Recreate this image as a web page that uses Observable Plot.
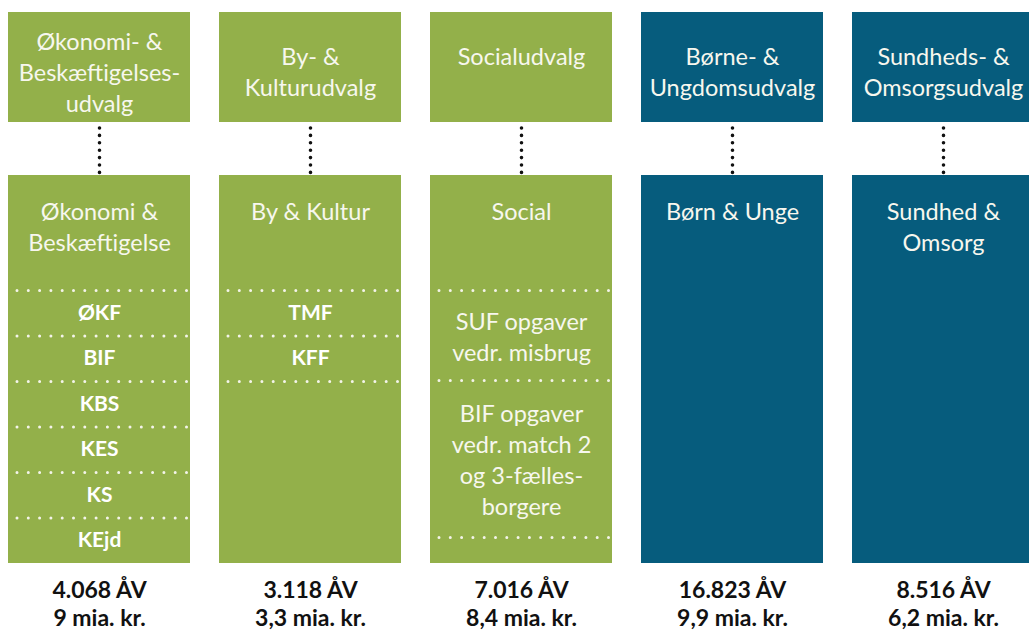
<!DOCTYPE html>
<html>
<head>
<meta charset="utf-8">
<script src="https://cdn.jsdelivr.net/npm/d3@7"></script>
<script src="https://cdn.jsdelivr.net/npm/@observablehq/plot@0.6"></script>
<style>
  html, body { margin: 0; padding: 0; background: #fff; overflow: hidden; }
  #chart svg { display: block; }
</style>
</head>
<body>
<div id="chart"></div>
<script>
// ---- data ----
const keys = ["okb", "bk", "soc", "bu", "so"];
const committees = ["Økonomi- &\nBeskæftigelses-\nudvalg", "By- &\nKulturudvalg", "Socialudvalg", "Børne- &\nUngdomsudvalg", "Sundheds- &\nOmsorgsudvalg"];
const departments = ["Økonomi &\nBeskæftigelse", "By & Kultur", "Social", "Børn & Unge", "Sundhed &\nOmsorg"];
const groups = ["green", "green", "green", "blue", "blue"];
const units = [
  ["ØKF", "BIF", "KBS", "KES", "KS", "KEjd"],
  ["TMF", "KFF"],
  ["SUF opgaver\nvedr. misbrug", "BIF opgaver\nvedr. match 2\nog 3-fælles-\nborgere"],
  [],
  []
];
const staff = ["4.068 ÅV", "3.118 ÅV", "7.016 ÅV", "16.823 ÅV", "8.516 ÅV"];
const budget = ["9 mia. kr.", "3,3 mia. kr.", "8,4 mia. kr.", "9,9 mia. kr.", "6,2 mia. kr."];

// ---- layout ----
const W = 1029, H = 631;
const topBox = [12, 122], bottomBox = [175, 563];
const unitStart = 290;
const colors = {green: "#93b04a", blue: "#065c7d"};
const FONT = "Lato, 'Open Sans', sans-serif";
const HEAD = 23.5, LH = 31 / 23.5;

const cols = keys.map((k, i) => ({
  key: k, committee: committees[i], department: departments[i], group: groups[i],
  staff: staff[i], budget: budget[i],
  cLines: committees[i].split("\n").length, dLines: departments[i].split("\n").length
}));

const unitRows = [], seps = [];
keys.forEach((k, i) => {
  let y = unitStart;
  units[i].forEach(u => {
    const n = u.split("\n").length;
    const h = n === 1 ? 45.5 : 23 + 33.5 * n;
    seps.push({key: k, y});
    unitRows.push({key: k, label: u, y: y + h / 2, bold: n === 1});
    y += h;
  });
  if (units[i].length && y < bottomBox[1] - 2) seps.push({key: k, y});
});

const chart = Plot.plot({
  width: W, height: H,
  margin: 0,
  x: {type: "band", domain: keys, range: [8, 1034], paddingInner: 29 / 211, paddingOuter: 0, axis: null},
  y: {domain: [0, H], range: [0, H], axis: null},
  style: {fontFamily: FONT, background: "#fff"},
  marks: [
    Plot.barY(cols, {x: "key", y1: () => topBox[0], y2: () => topBox[1], fill: d => colors[d.group]}),
    Plot.barY(cols, {x: "key", y1: () => bottomBox[0], y2: () => bottomBox[1], fill: d => colors[d.group]}),
    Plot.ruleX(cols, {x: "key", y1: () => 128, y2: () => 172.5, stroke: "#111", strokeWidth: 3.6, strokeDasharray: "0,7.4", strokeLinecap: "round"}),
    Plot.tickY(seps, {x: "key", y: "y", stroke: "#f4f4ea", strokeWidth: 3, strokeDasharray: "0,11.3", strokeLinecap: "round", insetLeft: 9, insetRight: 2}),
    Plot.text(cols, {x: "key", y: d => d.cLines === 1 ? 55 : 70.5, text: "committee", fill: "#f7f7ee", fontSize: HEAD, lineHeight: LH, lineAnchor: "middle"}),
    Plot.text(cols, {x: "key", y: d => 210 + (d.dLines - 1) * 15.5, text: "department", fill: "#f7f7ee", fontSize: HEAD, lineHeight: LH, lineAnchor: "middle"}),
    Plot.text(unitRows.filter(d => d.bold), {x: "key", y: "y", text: "label", fill: "#ffffff", fontSize: 21, fontWeight: "bold", lineAnchor: "middle"}),
    Plot.text(unitRows.filter(d => !d.bold), {x: "key", y: "y", text: "label", fill: "#f7f7ee", fontSize: HEAD, lineHeight: LH, lineAnchor: "middle"}),
    Plot.text(cols, {x: "key", y: () => 590, text: "staff", fill: "#111", fontSize: 23, fontWeight: "bold", lineAnchor: "middle"}),
    Plot.text(cols, {x: "key", y: () => 618, text: "budget", fill: "#111", fontSize: 23, fontWeight: "bold", lineAnchor: "middle"})
  ]
});
document.getElementById("chart").appendChild(chart);
</script>
</body>
</html>
